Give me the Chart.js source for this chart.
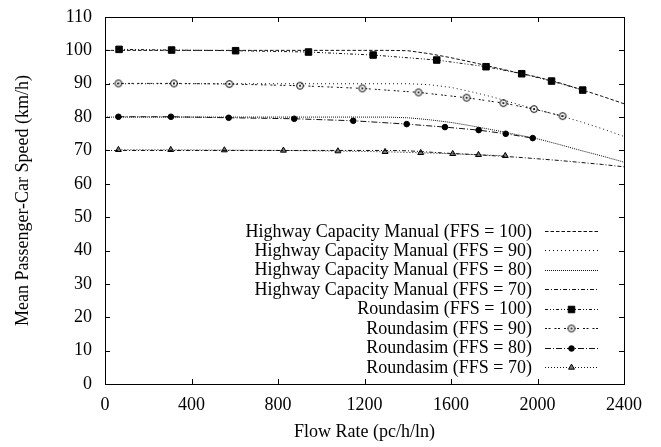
<!DOCTYPE html>
<html>
<head>
<meta charset="utf-8">
<script src="https://cdn.jsdelivr.net/npm/chart.js@4/dist/chart.umd.min.js"></script>
<style>
  html, body { margin: 0; padding: 0; background: #fff; }
  #wrap { width: 661px; height: 447px; }
</style>
</head>
<body>
<div id="wrap"><canvas id="c" width="661" height="447"></canvas></div>
<script>
// ---- data ----
const hcmFlow = [0, 400, 800, 1200, 1300, 1400, 1500, 1600, 1700, 1800, 1900, 2000, 2100, 2200, 2300, 2400];
const hcm100 = [100, 100, 100, 100, 100, 99.9, 99.0, 97.8, 96.4, 94.9, 93.4, 92.0, 90.3, 88.3, 86.2, 84.0];
const hcm90  = [90, 90, 90, 90, 90, 90, 89.7, 88.9, 87.5, 85.9, 84.0, 82.2, 80.5, 78.6, 76.5, 74.2];
const hcm80  = [80, 80, 80, 80, 80, 79.8, 79.2, 78.4, 77.3, 76.1, 74.8, 73.5, 71.8, 70.0, 68.3, 66.5];
const hcm70  = [70, 70, 70, 70, 70, 69.9, 69.5, 69.1, 68.8, 68.4, 68.0, 67.5, 67.0, 66.4, 65.8, 65.1];

const r100Flow = [65, 308, 604, 941, 1240, 1534, 1762, 1927, 2065, 2209];
const r100Speed = [100.3, 100.1, 99.9, 99.5, 98.6, 97.1, 95.1, 93.0, 90.8, 88.1];
const r90Flow = [62, 319, 575, 902, 1190, 1450, 1672, 1842, 1984, 2116];
const r90Speed = [90.1, 90.1, 89.9, 89.4, 88.6, 87.4, 85.8, 84.2, 82.4, 80.3];
const r80Flow = [62, 305, 572, 875, 1148, 1395, 1572, 1728, 1853, 1978];
const r80Speed = [80.1, 80.1, 79.8, 79.5, 78.9, 77.9, 77.0, 76.1, 75.0, 73.7];
const r70Flow = [62, 304, 552, 825, 1077, 1295, 1460, 1608, 1727, 1851];
const r70Speed = [70.2, 70.2, 70.1, 70.0, 69.8, 69.6, 69.3, 69.0, 68.7, 68.4];

const seriesLabels = [
  'Highway Capacity Manual (FFS = 100)',
  'Highway Capacity Manual (FFS = 90)',
  'Highway Capacity Manual (FFS = 80)',
  'Highway Capacity Manual (FFS = 70)',
  'Roundasim (FFS = 100)',
  'Roundasim (FFS = 90)',
  'Roundasim (FFS = 80)',
  'Roundasim (FFS = 70)'
];
const xTicks = [0, 400, 800, 1200, 1600, 2000, 2400];
const yTicks = [0, 10, 20, 30, 40, 50, 60, 70, 80, 90, 100, 110];

// ---- helpers ----
const pts = (xs, ys) => xs.map((x, i) => ({ x: x, y: ys[i] }));
const FONT = 'Liberation Serif, Times New Roman, serif';
const FS = 18;

// circle-with-dot marker
const dotCircle = document.createElement('canvas');
dotCircle.width = 10; dotCircle.height = 10;
(function () {
  const g = dotCircle.getContext('2d');
  g.fillStyle = '#fff';
  g.beginPath(); g.arc(5, 5, 3.4, 0, Math.PI * 2); g.fill();
  g.strokeStyle = '#000'; g.lineWidth = 1;
  g.beginPath(); g.arc(5, 5, 3.4, 0, Math.PI * 2); g.stroke();
  g.fillStyle = '#000';
  g.beginPath(); g.arc(5, 5, 1.1, 0, Math.PI * 2); g.fill();
})();

function lineDs(label, data, dash) {
  return { label, data, borderColor: '#111', borderWidth: 1, borderDash: dash,
           pointRadius: 0, fill: false, tension: 0 };
}
function markDs(label, data, dash, style, radius, bg) {
  return { label, data, borderColor: '#111', borderWidth: 1, borderDash: dash,
           pointStyle: style, pointRadius: radius, pointBackgroundColor: bg,
           pointBorderColor: '#000', pointBorderWidth: 1, fill: false, tension: 0 };
}

const datasets = [
  lineDs(seriesLabels[0], pts(hcmFlow, hcm100), [3.5, 2]),
  lineDs(seriesLabels[1], pts(hcmFlow, hcm90), [1, 3]),
  lineDs(seriesLabels[2], pts(hcmFlow, hcm80), [1, 1]),
  lineDs(seriesLabels[3], pts(hcmFlow, hcm70), [4, 2, 1, 2]),
  markDs(seriesLabels[4], pts(r100Flow, r100Speed), [3, 2, 1, 2, 1, 2], 'rect', 4.6, '#000'),
  markDs(seriesLabels[5], pts(r90Flow, r90Speed), [2, 1.5, 2, 4], dotCircle, 4, '#fff'),
  markDs(seriesLabels[6], pts(r80Flow, r80Speed), [6, 2, 1, 2], 'circle', 2.8, '#000'),
  markDs(seriesLabels[7], pts(r70Flow, r70Speed), [1, 2], 'triangle', 3.4, '#777')
];

// frame + inward ticks on all four sides
const framePlugin = {
  id: 'frame',
  afterDatasetsDraw(chart) {
    const { ctx, chartArea: a, scales } = chart;
    ctx.save();
    ctx.setLineDash([]);
    ctx.strokeStyle = '#000';
    ctx.lineWidth = 1;
    ctx.strokeRect(Math.round(a.left) + 0.5, Math.round(a.top) + 0.5,
                   Math.round(a.right - a.left), Math.round(a.bottom - a.top));
    const L = 5;
    ctx.beginPath();
    xTicks.forEach(v => {
      const px = Math.round(scales.x.getPixelForValue(v)) + 0.5;
      ctx.moveTo(px, a.bottom); ctx.lineTo(px, a.bottom - L);
      ctx.moveTo(px, a.top); ctx.lineTo(px, a.top + L);
    });
    yTicks.forEach(v => {
      const py = Math.round(scales.y.getPixelForValue(v)) + 0.5;
      ctx.moveTo(a.left, py); ctx.lineTo(a.left + L, py);
      ctx.moveTo(a.right, py); ctx.lineTo(a.right - L, py);
    });
    ctx.stroke();
    ctx.restore();
  }
};

function drawMarker(ctx, ds, x, y) {
  const st = ds.pointStyle;
  if (st instanceof HTMLCanvasElement) {
    ctx.drawImage(st, x - st.width / 2, y - st.height / 2);
    return;
  }
  if (Chart.helpers && Chart.helpers.drawPoint) {
    ctx.fillStyle = ds.pointBackgroundColor;
    ctx.strokeStyle = ds.pointBorderColor;
    ctx.lineWidth = ds.pointBorderWidth;
    Chart.helpers.drawPoint(ctx, { pointStyle: st, radius: ds.pointRadius, rotation: 0,
                                   borderWidth: ds.pointBorderWidth }, x, y);
  }
}

// legend: right-aligned text, sample to the right
const legendPlugin = {
  id: 'sideLegend',
  afterDraw(chart) {
    const { ctx, chartArea: a } = chart;
    const textRight = a.right - 92;
    const s0 = a.right - 79, s1 = a.right - 26;
    const step = 19.45;
    const yFirst = a.bottom - 17 - step * 7;
    ctx.save();
    ctx.font = FS + 'px ' + FONT;
    ctx.textAlign = 'right';
    ctx.textBaseline = 'middle';
    chart.data.datasets.forEach((ds, i) => {
      const y = yFirst + i * step;
      ctx.fillStyle = '#000';
      ctx.fillText(ds.label, textRight, y + 1);
      ctx.strokeStyle = ds.borderColor;
      ctx.lineWidth = ds.borderWidth;
      ctx.setLineDash(ds.borderDash || []);
      ctx.beginPath();
      ctx.moveTo(s0, Math.round(y) + 0.5);
      ctx.lineTo(s1, Math.round(y) + 0.5);
      ctx.stroke();
      ctx.setLineDash([]);
      if (ds.pointRadius) drawMarker(ctx, ds, (s0 + s1) / 2, Math.round(y) + 0.5);
    });
    ctx.restore();
  }
};

new Chart(document.getElementById('c'), {
  type: 'line',
  data: { datasets },
  options: {
    responsive: false,
    animation: false,
    devicePixelRatio: 1,
    layout: { padding: { top: 17, right: 37, left: 0, bottom: 0 } },
    plugins: { legend: { display: false }, tooltip: { enabled: false } },
    scales: {
      x: {
        type: 'linear', min: 0, max: 2400,
        afterFit: s => { s.height = 63; s.paddingLeft = 0; s.paddingRight = 0; },
        afterBuildTicks: s => { s.ticks = xTicks.map(v => ({ value: v })); },
        grid: { display: false, drawTicks: false },
        border: { display: false },
        ticks: { color: '#000', padding: 10, maxRotation: 0, callback: v => String(v),
                 font: { family: FONT, size: FS } },
        title: { display: true, text: 'Flow Rate (pc/h/ln)', color: '#000',
                 padding: { top: 0, bottom: 4 }, font: { family: FONT, size: FS } }
      },
      y: {
        type: 'linear', min: 0, max: 110,
        afterFit: s => { s.width = 105; s.paddingTop = 0; s.paddingBottom = 0; },
        afterBuildTicks: s => { s.ticks = yTicks.map(v => ({ value: v })); },
        grid: { display: false, drawTicks: false },
        border: { display: false },
        ticks: { color: '#000', padding: 13, callback: v => String(v),
                 font: { family: FONT, size: FS } },
        title: { display: true, text: 'Mean Passenger-Car Speed (km/h)', color: '#000',
                 padding: { top: 12, bottom: 0 }, font: { family: FONT, size: FS } }
      }
    }
  },
  plugins: [framePlugin, legendPlugin]
});
</script>
</body>
</html>
